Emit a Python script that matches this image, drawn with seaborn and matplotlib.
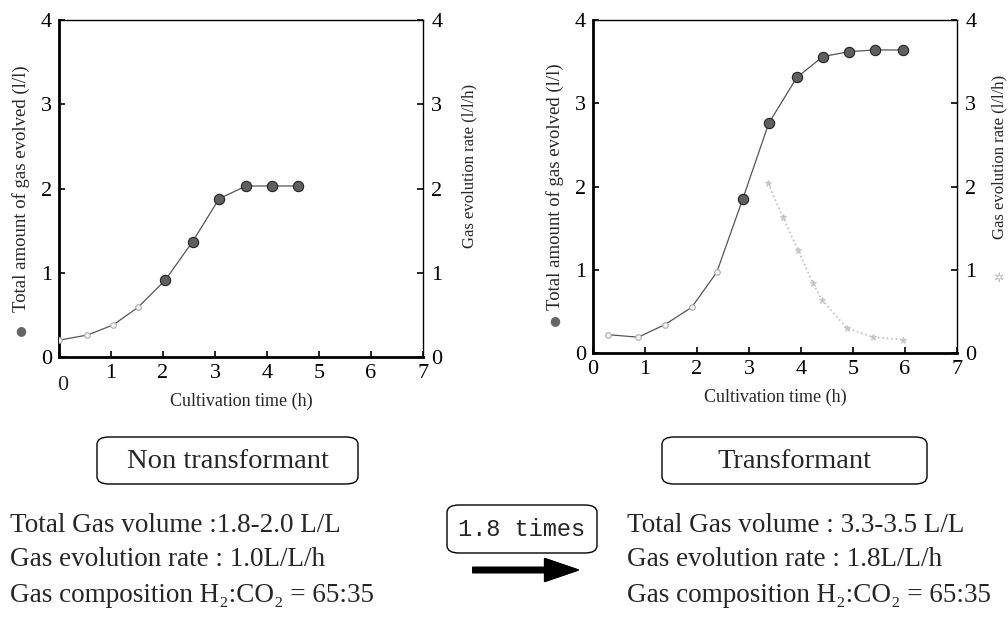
import matplotlib
matplotlib.use("Agg")
import matplotlib.pyplot as plt
import matplotlib.transforms as mtransforms
from matplotlib.patches import FancyBboxPatch
import pandas as pd
import seaborn as sns

# non transformant: total gas evolved (l/l)
non_time = [0.0, 0.54, 1.04, 1.52, 2.04, 2.57, 3.08, 3.6, 4.1, 4.6]
non_total = [0.2, 0.26, 0.38, 0.59, 0.91, 1.37, 1.88, 2.03, 2.03, 2.03]

# transformant: total gas evolved (l/l) and evolution rate (l/l/h)
trans_time = [0.29, 0.87, 1.38, 1.9, 2.38, 2.88, 3.38, 3.92, 4.42, 4.92, 5.42, 5.96]
trans_total = [0.22, 0.19, 0.34, 0.55, 0.97, 1.85, 2.76, 3.31, 3.56, 3.62, 3.64, 3.64]
rate_time = [3.37, 3.65, 3.94, 4.23, 4.4, 4.88, 5.38, 5.96]
rate_val = [2.04, 1.63, 1.24, 0.84, 0.64, 0.30, 0.19, 0.16]

x_ticks = [0, 1, 2, 3, 4, 5, 6, 7]
y_ticks = [0, 1, 2, 3, 4]

left_info = ["Total Gas volume :1.8-2.0 L/L",
             "Gas evolution rate : 1.0L/L/h",
             "Gas composition H\u2082:CO\u2082 = 65:35"]
right_info = ["Total Gas volume : 3.3-3.5 L/L",
              "Gas evolution rate : 1.8L/L/h",
              "Gas composition H\u2082:CO\u2082 = 65:35"]

sns.set_theme(style="ticks")
plt.rcParams["font.family"] = ["Liberation Serif", "DejaVu Serif"]

W, H = 1008, 618
fig = plt.figure(figsize=(W / 100, H / 100), dpi=100)


def fx(px):
    return px / W


def fy(py):
    return 1 - py / H


def setup(ax, xlabels):
    ax.set_xlim(0, 7)
    ax.set_ylim(0, 4)
    ax.set_xticks(x_ticks)
    ax.set_xticklabels(xlabels)
    ax.set_yticks(y_ticks)
    ax.tick_params(direction="in", labelsize=16, length=4, width=1.2, pad=5, colors="black")
    for s in ax.spines.values():
        s.set_color("black")
        s.set_linewidth(1.0)
    ax.spines["left"].set_linewidth(2)
    ax.spines["bottom"].set_linewidth(2)
    ax.set_xlabel("Cultivation time (h)", fontsize=13, labelpad=7)
    ax.set_ylabel("Total amount of gas evolved (l/l)", fontsize=13.5, labelpad=8)


def draw_total(ax, t, v, n_faint):
    df = pd.DataFrame({"t": t, "v": v})
    sns.lineplot(data=df, x="t", y="v", ax=ax, color="#555555", lw=0.9)
    sns.scatterplot(data=df.iloc[:n_faint], x="t", y="v", ax=ax, s=16,
                    color="#f4f4f4", edgecolor="#aaaaaa", linewidth=0.8, zorder=3)
    sns.scatterplot(data=df.iloc[n_faint:], x="t", y="v", ax=ax, s=55,
                    color="#5f5f5f", edgecolor="#222222", linewidth=0.8, zorder=3)
    ax.set_xlabel("")
    ax.set_ylabel("")


def right_axis(ax, lx, ly):
    ax2 = ax.twinx()
    ax2.set_ylim(0, 4)
    ax2.set_yticks(y_ticks)
    ax2.tick_params(direction="in", labelsize=16, length=4, width=1.2, pad=6, colors="black")
    for s in ax2.spines.values():
        s.set_visible(False)
    ax2.set_ylabel("Gas evolution rate (l/l/h)", fontsize=12)
    ax2.yaxis.set_label_coords(lx, ly)
    return ax2


# ---- left panel
ax1 = fig.add_axes([fx(59), fy(357), fx(364), 337 / H])
draw_total(ax1, non_time, non_total, 4)
setup(ax1, [""] + [str(v) for v in x_ticks[1:]])
ax1.text(0.08, -0.055, "0", fontsize=16, ha="center", va="top",
         transform=mtransforms.blended_transform_factory(ax1.transData, ax1.transAxes))
right_axis(ax1, 1.105, 0.567)

# ---- right panel
ax3 = fig.add_axes([fx(593), fy(353), fx(364), 333 / H])
draw_total(ax3, trans_time, trans_total, 5)
setup(ax3, [str(v) for v in x_ticks])
ax4 = right_axis(ax3, 1.094, 0.59)
sns.lineplot(x=rate_time, y=rate_val, ax=ax4, color="#bdbdbd", lw=1.2, ls=":",
             marker="*", markersize=5, markeredgecolor="#c8c8c8")
ax4.set_ylim(0, 4)

# legend symbols in the axis labels
fig.text(fx(21), fy(331), "\u25cf", color="#666666", fontsize=9, ha="center", va="center",
         family=["DejaVu Sans"])
fig.text(fx(555), fy(321), "\u25cf", color="#666666", fontsize=9, ha="center", va="center",
         family=["DejaVu Sans"])
fig.text(fx(998), fy(278), "\u2732", color="#bbbbbb", fontsize=9, ha="center", va="center",
         family=["DejaVu Sans"])

# ---- labelled boxes
for x0, x1, label in [(97, 358, "Non transformant"), (662, 927, "Transformant")]:
    fig.patches.append(FancyBboxPatch((fx(x0), fy(484)), fx(x1 - x0), 47 / H,
                                      boxstyle="round,pad=0,rounding_size=0.012",
                                      transform=fig.transFigure, fc="white",
                                      ec="black", lw=1.0))
    fig.text(fx((x0 + x1) / 2), fy(461), label, fontsize=20.5, ha="center", va="center")

fig.patches.append(FancyBboxPatch((fx(447), fy(553)), fx(150), 48 / H,
                                  boxstyle="round,pad=0,rounding_size=0.012",
                                  transform=fig.transFigure, fc="white",
                                  ec="black", lw=1.0))
fig.text(fx(522), fy(530), "1.8 times", fontsize=17, ha="center", va="center",
         family=["Liberation Mono"])
fig.add_artist(plt.annotate("", xy=(fx(581), fy(570)), xytext=(fx(470), fy(570)),
                            xycoords="figure fraction",
                            arrowprops=dict(arrowstyle="simple,head_length=1.1,head_width=0.75,tail_width=0.17",
                                            mutation_scale=22, fc="black", ec="black")))

for i, (a, b) in enumerate(zip(left_info, right_info)):
    y = fy(525 + 35 * i)
    fig.text(fx(10), y, a, fontsize=19.5, ha="left", va="center")
    fig.text(fx(627), y, b, fontsize=19.5, ha="left", va="center")

fig.savefig("out.png", dpi=100)
